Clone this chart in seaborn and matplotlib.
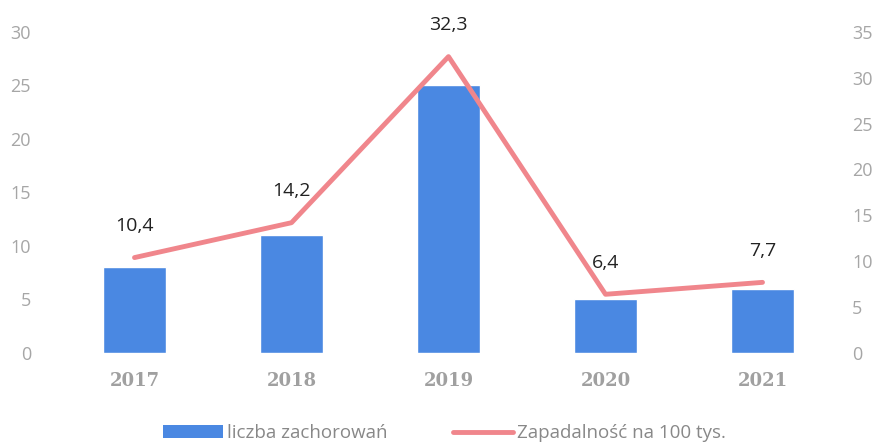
import matplotlib
matplotlib.use("Agg")
import matplotlib.pyplot as plt
import seaborn as sns
import pandas as pd
from matplotlib.lines import Line2D
from matplotlib.patches import Patch

years = ["2017", "2018", "2019", "2020", "2021"]
cases = [8, 11, 25, 5, 6]
incidence = [10.4, 14.2, 32.3, 6.4, 7.7]
incidence_labels = ["10,4", "14,2", "32,3", "6,4", "7,7"]

bar_color = "#4a88e2"
line_color = "#f0868c"
tick_gray = "#a6a6a6"

sns.set_theme(style="white")
plt.rcParams["font.family"] = ["Open Sans", "DejaVu Sans"]

df = pd.DataFrame({"year": years, "cases": cases, "incidence": incidence})

fig = plt.figure(figsize=(8.89, 4.48), dpi=100)
ax = fig.add_axes([0.063, 0.212, 0.883, 0.717])

sns.barplot(data=df, x="year", y="cases", color=bar_color, width=0.4,
            saturation=1, ax=ax)
ax.set_ylim(0, 30)
ax.set_yticks(range(0, 31, 5))
ax.set_xlim(-0.5, 4.5)

ax2 = ax.twinx()
sns.lineplot(data=df, x="year", y="incidence", color=line_color,
             linewidth=3.5, sort=False, ax=ax2)
ax2.set_ylim(0, 35)
ax2.set_yticks(range(0, 36, 5))

for i, (v, lab) in enumerate(zip(incidence, incidence_labels)):
    ax2.annotate(lab, (i, v), xytext=(0, 16), textcoords="offset points",
                 ha="center", va="bottom", fontsize=14, color="#222222")

for a in (ax, ax2):
    for s in a.spines.values():
        s.set_visible(False)
    a.set_xlabel("")
    a.set_ylabel("")
    a.tick_params(axis="y", length=0, labelsize=13, labelcolor=tick_gray, pad=18)

ax.tick_params(axis="x", length=0, labelsize=13, labelcolor="#a0a0a0", pad=14)
for t in ax.get_xticklabels():
    t.set_fontweight("bold")
    t.set_family(["DejaVu Serif"])
ax2.tick_params(axis="y", pad=8)

handles = [Patch(facecolor=bar_color, edgecolor="none"),
           Line2D([0], [0], color=line_color, linewidth=3.5)]
fig.legend(handles, ["liczba zachorowań", "Zapadalność na 100 tys."],
           loc="lower center", bbox_to_anchor=(0.5, -0.025), ncol=2, frameon=False,
           fontsize=13.5, labelcolor="#888888", handlelength=3.2, columnspacing=3.5,
           handletextpad=0.2)

fig.savefig("out.png", dpi=100)
